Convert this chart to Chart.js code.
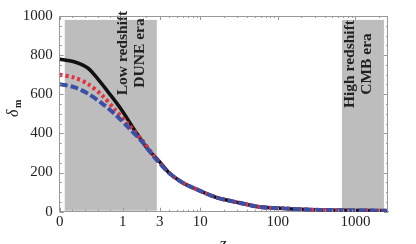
<!DOCTYPE html>
<html><head><meta charset="utf-8">
<script src="https://cdn.jsdelivr.net/npm/chart.js@4/dist/chart.umd.min.js"></script>
<style>html,body{margin:0;padding:0;background:#fff;overflow:hidden}#wrap{width:416px;height:244px;position:relative}canvas{display:block}</style>
</head><body><div id="wrap"><canvas id="c" width="416" height="244"></canvas></div>
<script>
// ---- data ----
const xTickLabels = [0, 1, 3, 10, 100, 1000];
const yTickValues = [0, 200, 400, 600, 800, 1000];

const zBlack     = [0, 0.24, 0.45, 0.61, 0.77, 0.98, 1.43, 2.12, 2.85, 4.04, 6.0, 8.1, 16, 29, 59, 117, 192, 630, 2600];
const deltaBlack = [779, 765, 733, 676, 611, 521, 415, 318, 265, 195, 147, 122, 73, 49, 24, 17, 12, 7, 5];

const zRed       = [0, 0.24, 0.45, 0.67, 0.88, 1.17, 1.74, 2.6, 4.04, 6.0, 8.1, 16, 29, 59, 117, 192, 630, 2600];
const deltaRed   = [700, 684, 652, 595, 521, 448, 370, 280, 195, 147, 122, 73, 49, 24, 17, 12, 7, 5];

const zBlue      = [0, 0.24, 0.45, 0.67, 0.88, 1.17, 1.74, 2.6, 4.04, 6.0, 8.1, 16, 29, 59, 117, 192, 630, 2600];
const deltaBlue  = [652, 635, 603, 554, 497, 432, 362, 275, 195, 147, 122, 73, 49, 24, 17, 12, 7, 5];

const bandRanges = [[0.08, 2.75], [670, 2330]];
const bandTexts  = [["Low redshift", "DUNE era"], ["High redshift", "CMB era"]];
const xMaxZ = 2630;

// ---- axis transform: linear for 0..1, logarithmic above ----
const K = 63 / 77.5;
function zToU(z) { return z <= 1 ? (z - 1) * K : Math.log10(z); }
function pts(zs, vs) { return zs.map((z, i) => ({ x: zToU(z), y: vs[i] })); }

const SERIF = '"Liberation Serif", "DejaVu Serif", serif';
const FRAME = '#999';

const bandPlugin = {
  id: 'bands',
  beforeDatasetsDraw(chart) {
    const { ctx, scales: { x, y } } = chart;
    ctx.save();
    bandRanges.forEach((r, i) => {
      const x0 = x.getPixelForValue(zToU(r[0]));
      const x1 = x.getPixelForValue(zToU(r[1]));
      const y0 = y.getPixelForValue(980);
      const y1 = y.getPixelForValue(5);
      ctx.fillStyle = '#bdbdbd';
      ctx.fillRect(x0, y0, x1 - x0, y1 - y0);
    });
    const centers = [[131, 53], [358, 64]];
    bandTexts.forEach((lines, i) => {
      const [cx, cy] = centers[i];
      ctx.save();
      ctx.translate(cx, cy);
      ctx.rotate(-Math.PI / 2);
      ctx.fillStyle = '#222';
      ctx.font = 'bold 15.5px ' + SERIF;
      ctx.textAlign = 'center';
      ctx.textBaseline = 'middle';
      ctx.fillText(lines[0], 0, -8);
      ctx.fillText(lines[1], 0, 9);
      ctx.restore();
    });
    ctx.restore();
  },
  afterDraw(chart) {
    const { ctx, chartArea: a, scales: { x, y } } = chart;
    ctx.save();
    ctx.strokeStyle = FRAME;
    ctx.lineWidth = 1;
    ctx.beginPath();
    ctx.moveTo(a.left, a.top + 0.5); ctx.lineTo(a.right, a.top + 0.5);
    ctx.moveTo(a.right - 0.5, a.top); ctx.lineTo(a.right - 0.5, a.bottom);
    for (let v = 0; v <= 1000; v += 50) {
      const py = Math.round(y.getPixelForValue(v)) + 0.5;
      const L = v % 200 === 0 ? 4 : 2;
      ctx.moveTo(a.left, py); ctx.lineTo(a.left + L, py);
      ctx.moveTo(a.right, py); ctx.lineTo(a.right - L, py);
    }
    const minor = [0.2, 0.4, 0.6, 0.8, 2, 4, 5, 6, 7, 8, 9, 20, 30, 40, 50, 60, 70, 80, 90, 200, 300, 400, 500, 600, 700, 800, 900, 2000];
    const all = xTickLabels.map(z => [z, 4]).concat(minor.map(z => [z, 2]));
    all.forEach(([z, L]) => {
      const px = Math.round(x.getPixelForValue(zToU(z))) + 0.5;
      ctx.moveTo(px, a.bottom); ctx.lineTo(px, a.bottom - L);
      ctx.moveTo(px, a.top); ctx.lineTo(px, a.top + L);
    });
    ctx.stroke();
    ctx.save();
    ctx.translate(14, 107);
    ctx.rotate(-Math.PI / 2);
    ctx.fillStyle = '#222';
    ctx.textBaseline = 'alphabetic';
    ctx.textAlign = 'left';
    ctx.font = 'italic 16px ' + SERIF;
    ctx.fillText('δ', -10, 4);
    ctx.font = 'bold 10px ' + SERIF;
    ctx.fillText('m', -1, 7);
    ctx.restore();
    ctx.fillStyle = '#222';
    ctx.font = 'italic 18px ' + SERIF;
    ctx.textAlign = 'center';
    ctx.textBaseline = 'alphabetic';
    ctx.fillText('z', 223, 250);
    ctx.restore();
  }
};

new Chart(document.getElementById('c'), {
  type: 'line',
  data: {
    datasets: [
      { label: 'blue', data: pts(zBlue, deltaBlue), borderColor: '#3b4fa6', borderWidth: 4, borderDash: [8, 3], order: 0 },
      { label: 'red', data: pts(zRed, deltaRed), borderColor: '#e2323c', borderWidth: 4, borderDash: [3, 3], order: 1 },
      { label: 'black', data: pts(zBlack, deltaBlack), borderColor: '#111', borderWidth: 3.5, order: 2 }
    ]
  },
  options: {
    responsive: false,
    animation: false,
    devicePixelRatio: 1,
    parsing: false,
    elements: { point: { radius: 0 }, line: { tension: 0.3, fill: false, borderCapStyle: 'butt' } },
    layout: { padding: { top: 7, right: 28, left: 0, bottom: 0 } },
    plugins: { legend: { display: false }, tooltip: { enabled: false } },
    scales: {
      x: {
        type: 'linear',
        min: zToU(0),
        max: zToU(xMaxZ),
        grid: { display: false, drawTicks: false },
        border: { color: FRAME, width: 1 },
        afterBuildTicks(s) { s.ticks = xTickLabels.map(z => ({ value: zToU(z) })); },
        ticks: {
          autoSkip: false, maxRotation: 0, padding: 1,
          color: '#222', font: { family: SERIF, size: 15 },
          callback(v, i) { return String(xTickLabels[i]); }
        },
        afterFit(s) { s.height = 32.3; }
      },
      y: {
        min: 0, max: 1000,
        grid: { display: false, drawTicks: false },
        border: { color: FRAME, width: 1 },
        afterBuildTicks(s) { s.ticks = yTickValues.map(v => ({ value: v })); },
        ticks: {
          padding: 7, color: '#222', font: { family: SERIF, size: 15 },
          callback(v, i) { return String(yTickValues[i]); }
        },
        afterFit(s) { s.width = 59.7; }
      }
    }
  },
  plugins: [bandPlugin]
});
</script>
</body></html>
